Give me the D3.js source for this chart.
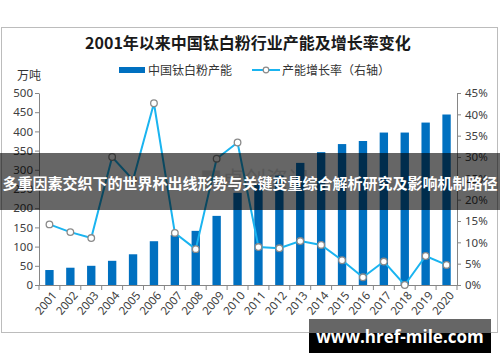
<!DOCTYPE html>
<html>
<head>
<meta charset="utf-8">
<script src="https://cdn.jsdelivr.net/npm/d3@7"></script>
<style>
body{margin:0;background:#fff;}
text{font-family:"Noto Sans CJK SC","Noto Sans",sans-serif;}
</style>
</head>
<body>
<div id="chart"></div>
<script>
// data
const years=["2001","2002","2003","2004","2005","2006","2007","2008","2009","2010",
  "2011","2012","2013","2014","2015","2016","2017","2018","2019","2020"];
const capacity=[39,45,50,63,80,114,130,141,180,240,263,285,318,346,367,375,397,397,423,444];
const growth=[14.2,12.4,11.0,30.0,24.6,42.6,12.2,8.4,29.6,33.4,8.9,8.6,10.3,9.4,5.8,1.8,5.5,0,6.8,4.7];
const leftTicks=[0,50,100,150,200,250,300,350,400,450,500];
const rightTicks=[0,5,10,15,20,25,30,35,40,45];

const W=500,H=362;
const plot={left:39,right:457,top:93,bottom:285};

const svg=d3.select("#chart").append("svg")
  .attr("width",W).attr("height",H);

// frame
svg.append("rect")
  .attr("x",1.5).attr("y",27.5).attr("width",496).attr("height",305)
  .attr("fill","#fff").attr("stroke","#bcbcbc");

const x=d3.scaleBand().domain(years).range([plot.left,plot.right])
  .paddingInner(0.6).paddingOuter(0.3);
const yL=d3.scaleLinear().domain([0,500]).range([plot.bottom,plot.top]);
const yR=d3.scaleLinear().domain([0,45]).range([plot.bottom,plot.top]);

// title
svg.append("text")
  .attr("x",248).attr("y",49)
  .attr("text-anchor","middle")
  .attr("font-size",16).attr("font-weight","bold").attr("fill","#1a1a1a")
  .text("2001年以来中国钛白粉行业产能及增长率变化");

// legend
const lg=svg.append("g").attr("font-size",12).attr("fill","#333");
lg.append("rect").attr("x",119).attr("y",67).attr("width",26).attr("height",6).attr("fill","#0070c0");
lg.append("text").attr("x",148).attr("y",74.5).text("中国钛白粉产能");
lg.append("line").attr("x1",252).attr("x2",280).attr("y1",70).attr("y2",70)
  .attr("stroke","#1ab4f0").attr("stroke-width",2);
lg.append("circle").attr("cx",266).attr("cy",70).attr("r",2.8)
  .attr("fill","#fff").attr("stroke","#8a8a8a").attr("stroke-width",1.2);
lg.append("text").attr("x",282).attr("y",74.5).text("产能增长率（右轴）");

svg.append("text").attr("x",17).attr("y",80).attr("font-size",12).attr("fill","#333").text("万吨");

// faint source mark under the chart
svg.append("text").attr("x",200).attr("y",187).attr("font-size",22)
  .attr("fill","#999").attr("opacity",0.35).text("■卓创资讯");

// bars
svg.append("g").selectAll("rect").data(years).enter().append("rect")
  .attr("x",d=>x(d))
  .attr("width",x.bandwidth())
  .attr("y",(d,i)=>yL(capacity[i]))
  .attr("height",(d,i)=>yL(0)-yL(capacity[i]))
  .attr("fill","#0070c0");

// axes
const axisColor="#868686";
const gl=svg.append("g").attr("transform","translate("+plot.left+",0)")
  .call(d3.axisLeft(yL).tickValues(leftTicks).tickSize(4).tickSizeOuter(0));
const gr=svg.append("g").attr("transform","translate("+plot.right+",0)")
  .call(d3.axisRight(yR).tickValues(rightTicks).tickSize(4).tickSizeOuter(0)
  .tickFormat(d=>d+"%"));
[gl,gr].forEach(g=>{
  g.select(".domain").attr("stroke",axisColor);
  g.selectAll(".tick line").attr("stroke",axisColor);
  g.selectAll(".tick text").attr("fill","#404040").attr("font-size",11.5)
    .style("font-family","'Noto Sans','DejaVu Sans',sans-serif");
});
gl.selectAll(".tick text").attr("x",-6);
gr.selectAll(".tick text").attr("x",8);

// category axis
const gb=svg.append("g");
gb.append("line").attr("x1",plot.left).attr("x2",plot.right)
  .attr("y1",plot.bottom+0.5).attr("y2",plot.bottom+0.5).attr("stroke",axisColor);
const bounds=years.map(d=>x(d)-x.step()*x.paddingInner()/2);
bounds.push(plot.right);
gb.selectAll("line.tk").data(bounds).enter().append("line").attr("class","tk")
  .attr("x1",d=>d).attr("x2",d=>d)
  .attr("y1",plot.bottom).attr("y2",plot.bottom+5).attr("stroke",axisColor);
gb.selectAll("text").data(years).enter().append("text")
  .attr("transform",d=>"translate("+(x(d)+x.bandwidth()/2+5)+","+(plot.bottom+8)+") rotate(-50)")
  .attr("text-anchor","end").attr("dy","0.35em")
  .attr("font-size",11.5).attr("fill","#404040")
  .style("font-family","'Noto Sans','DejaVu Sans',sans-serif")
  .text(d=>d);

// growth line
const cx=d=>x(d)+x.bandwidth()/2;
const line=d3.line().x((d,i)=>cx(years[i])).y(d=>yR(d));
svg.append("path").datum(growth).attr("d",line)
  .attr("fill","none").attr("stroke","#1ab4f0").attr("stroke-width",2);
svg.append("g").selectAll("circle").data(growth).enter().append("circle")
  .attr("cx",(d,i)=>cx(years[i])).attr("cy",d=>yR(d)).attr("r",3.3)
  .attr("fill","#fff").attr("stroke","#8a8a8a").attr("stroke-width",1.3);

// overlay band
svg.append("rect").attr("x",0).attr("y",153).attr("width",W).attr("height",57)
  .attr("fill","#000").attr("opacity",0.6);
svg.append("text").attr("x",250).attr("y",188.5).attr("text-anchor","middle")
  .attr("font-size",15).attr("font-weight","bold").attr("fill","#fff")
  .text("多重因素交织下的世界杯出线形势与关键变量综合解析研究及影响机制路径");

// site mark
svg.append("rect").attr("x",309).attr("y",319).attr("width",182).attr("height",14).attr("fill","#666");
svg.append("rect").attr("x",309).attr("y",333).attr("width",182).attr("height",20).attr("fill","#000");
svg.append("text").attr("x",400).attr("y",343).attr("text-anchor","middle")
  .attr("font-size",17).attr("font-weight","bold").attr("fill","#fff")
  .style("font-family","'Open Sans','DejaVu Sans',sans-serif")
  .text("www.href-mile.com");
</script>
</body>
</html>
